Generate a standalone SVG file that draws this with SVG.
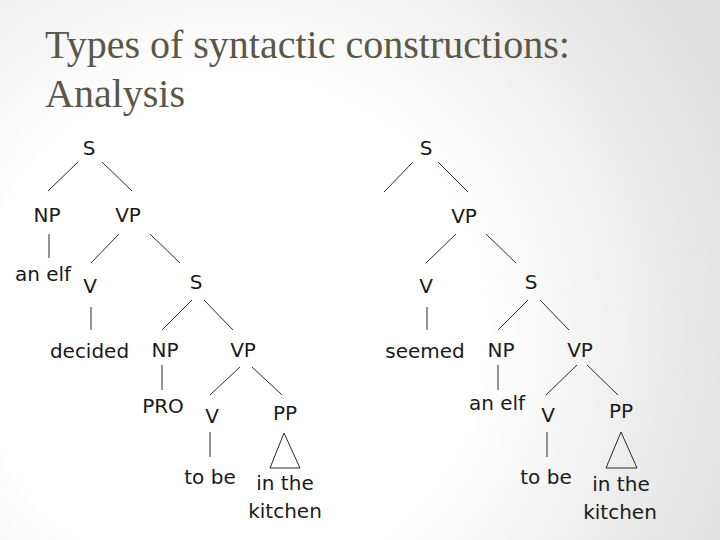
<svg xmlns="http://www.w3.org/2000/svg" width="720" height="540" viewBox="0 0 720 540">
<defs>
<radialGradient id="bg" gradientUnits="userSpaceOnUse" cx="230" cy="330" r="560">
<stop offset="0.45" stop-color="#ffffff"/>
<stop offset="1" stop-color="#dedede"/>
</radialGradient>
<style>
.title{font-family:"Liberation Serif","DejaVu Serif",serif;font-size:40px;fill:#5b5747}
.n{font-family:"DejaVu Sans","Liberation Sans",sans-serif;font-size:20px;fill:#1a1a1a;text-anchor:middle}
.e line,.e polygon{stroke:#2a2a2a;stroke-width:1;fill:none}
</style>
</defs>
<rect width="720" height="540" fill="url(#bg)"/>
<g id="title">
<text class="title" x="45" y="58">Types of syntactic constructions:</text>
<text class="title" x="45" y="107">Analysis</text>
</g>
<g id="edges" class="e">
<line x1="78" y1="162" x2="48" y2="191"/>
<line x1="102" y1="162" x2="132" y2="191"/>
<line x1="49" y1="234" x2="49" y2="258"/>
<line x1="119" y1="234" x2="91" y2="263"/>
<line x1="150" y1="234" x2="180" y2="263"/>
<line x1="91" y1="307" x2="91" y2="330"/>
<line x1="192" y1="300" x2="162" y2="330"/>
<line x1="204" y1="300" x2="233" y2="330"/>
<line x1="162" y1="365" x2="162" y2="390"/>
<line x1="240" y1="367" x2="210" y2="395"/>
<line x1="252" y1="367" x2="282" y2="395"/>
<line x1="210" y1="432" x2="210" y2="457"/>
<polygon points="284,433 270,468 300,468"/>
<line x1="413" y1="162" x2="384" y2="192"/>
<line x1="438" y1="162" x2="468" y2="192"/>
<line x1="456" y1="234" x2="426" y2="263"/>
<line x1="486" y1="234" x2="516" y2="263"/>
<line x1="427" y1="307" x2="427" y2="330"/>
<line x1="528" y1="300" x2="498" y2="330"/>
<line x1="540" y1="300" x2="569" y2="330"/>
<line x1="498" y1="365" x2="498" y2="390"/>
<line x1="577" y1="365" x2="546" y2="395"/>
<line x1="587" y1="365" x2="618" y2="395"/>
<line x1="547" y1="432" x2="547" y2="457"/>
<polygon points="621,432 606,468 637,468"/>
</g>
<g id="left-tree">
<g id="l-S"><text class="n" x="89" y="155">S</text></g>
<g id="l-NP"><text class="n" x="47" y="222">NP</text></g>
<g id="l-VP"><text class="n" x="128" y="222">VP</text></g>
<g id="l-anelf"><text class="n" x="43" y="281">an elf</text></g>
<g id="l-V"><text class="n" x="90" y="293">V</text></g>
<g id="l-S2"><text class="n" x="196" y="289">S</text></g>
<g id="l-decided"><text class="n" x="89.5" y="358">decided</text></g>
<g id="l-NP2"><text class="n" x="165" y="357">NP</text></g>
<g id="l-VP2"><text class="n" x="243" y="357">VP</text></g>
<g id="l-PRO"><text class="n" x="163" y="413">PRO</text></g>
<g id="l-V2"><text class="n" x="212" y="423">V</text></g>
<g id="l-PP"><text class="n" x="285" y="420">PP</text></g>
<g id="l-tobe"><text class="n" x="210" y="484">to be</text></g>
<g id="l-inthe"><text class="n" x="285" y="490">in the</text></g>
<g id="l-kitchen"><text class="n" x="285" y="518">kitchen</text></g>
</g>
<g id="right-tree">
<g id="r-S"><text class="n" x="426" y="155">S</text></g>
<g id="r-VP"><text class="n" x="464" y="223">VP</text></g>
<g id="r-V"><text class="n" x="426" y="293">V</text></g>
<g id="r-S2"><text class="n" x="531" y="289">S</text></g>
<g id="r-seemed"><text class="n" x="425" y="358">seemed</text></g>
<g id="r-NP"><text class="n" x="501" y="357">NP</text></g>
<g id="r-VP2"><text class="n" x="580" y="357">VP</text></g>
<g id="r-anelf"><text class="n" x="497" y="410">an elf</text></g>
<g id="r-V2"><text class="n" x="548" y="422">V</text></g>
<g id="r-PP"><text class="n" x="621" y="418">PP</text></g>
<g id="r-tobe"><text class="n" x="546" y="484">to be</text></g>
<g id="r-inthe"><text class="n" x="621" y="491">in the</text></g>
<g id="r-kitchen"><text class="n" x="620" y="519">kitchen</text></g>
</g>
</svg>
